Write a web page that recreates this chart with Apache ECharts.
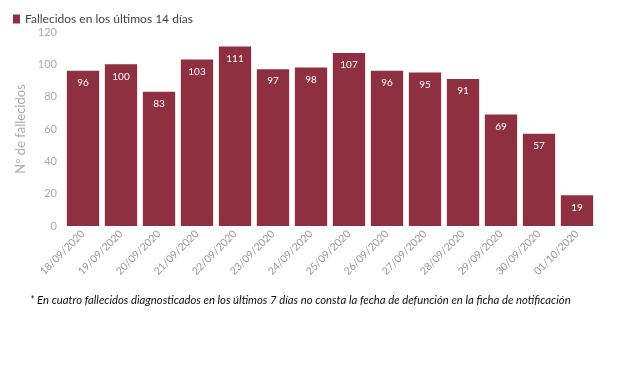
<!DOCTYPE html>
<html><head><meta charset="utf-8">
<script src="https://cdn.jsdelivr.net/npm/echarts@6/dist/echarts.min.js"></script>
<style>html,body{margin:0;padding:0;background:#fff}#c{width:620px;height:368px}</style>
</head><body><div id="c"></div>
<script>
const categories = ['18/09/2020','19/09/2020','20/09/2020','21/09/2020','22/09/2020','23/09/2020','24/09/2020','25/09/2020','26/09/2020','27/09/2020','28/09/2020','29/09/2020','30/09/2020','01/10/2020'];
const values = [96,100,83,103,111,97,98,107,96,95,91,69,57,19];
const seriesName = 'Fallecidos en los últimos 14 días';
const yAxisName = 'Nº de fallecidos';
const footnote = '* En cuatro fallecidos diagnosticados en los últimos 7 días no consta la fecha de defunción en la ficha de notificación';
const font = 'Lato, "Open Sans", sans-serif';
const chart = echarts.init(document.getElementById('c'));
chart.setOption({
  animation: false,
  grid: {left: 64, right: 24, top: 32, bottom: 142, containLabel: false},
  legend: {left: 8, top: 8, itemWidth: 7, itemHeight: 9, itemGap: 4,
    icon: 'rect',
    textStyle: {color: '#444', fontSize: 12, fontFamily: font},
    data: [seriesName]},
  graphic: [{type: 'text', left: 30, top: 295,
    style: {text: footnote, fill: '#111', font: 'italic 11.3px ' + font}}],
  xAxis: {type: 'category', data: categories,
    axisLine: {show: false}, axisTick: {show: false},
    axisLabel: {rotate: 45, color: '#999', fontSize: 10.5, fontFamily: font, margin: 6}},
  yAxis: {type: 'value', min: 0, max: 120, interval: 20,
    name: yAxisName, nameLocation: 'middle', nameGap: 26,
    nameTextStyle: {color: '#aaa', fontSize: 13, fontFamily: font},
    axisLabel: {color: '#aaa', fontSize: 11, fontFamily: font, margin: 7},
    splitLine: {show: false}, axisLine: {show: false}, axisTick: {show: false}},
  series: [{name: seriesName, type: 'bar', data: values, barCategoryGap: '15%',
    itemStyle: {color: '#8f3041'},
    label: {show: true, position: 'insideTop', color: '#fff', fontSize: 10, fontFamily: font, distance: 7}}]
});
</script></body></html>
